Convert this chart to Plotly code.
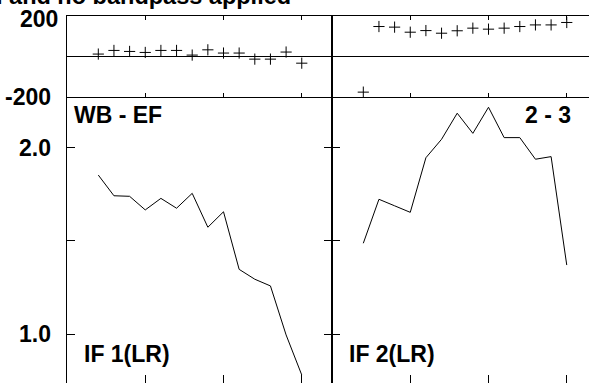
import plotly.graph_objects as go

# channel numbers along x, shared by both columns
chan = list(range(2, 16))

# phase (deg) on top row
phase_wb_ef = [12, 30, 25, 20, 30, 30, 7, 33, 17, 17, -13, -13, 22, -33]
phase_2_3 = [-176, 148, 145, 120, 128, 115, 127, 140, 135, 140, 148, 156, 156, 168]

# amplitude on bottom row
amp_if1 = [1.853, 1.742, 1.739, 1.666, 1.728, 1.675, 1.755, 1.573, 1.656, 1.347, 1.294, 1.258, 0.995, 0.780]
amp_if2 = [1.487, 1.723, 1.688, 1.653, 1.946, 2.045, 2.185, 2.077, 2.217, 2.054, 2.054, 1.938, 1.952, 1.370]

amp_ticks = [1.0, 1.5, 2.0]
amp_labels = [1.0, 2.0]
chan_ticks = [5, 10, 15]

W, H = 589, 383
ML, MT = 67, 16
split_px = 332
phase_bottom_px = 97


def px_x(px):
    return (px - ML) / (W - ML)


def px_y(py):
    return (H - py) / (H - MT)


d = px_x(split_px)
ph0 = px_y(phase_bottom_px)
unit = 15.65
xr_left = [0, (split_px - ML) / unit]
xr_right = [0, (W - split_px) / unit]
amp_range = [0.737, 2.272]

font_b = dict(family='Liberation Sans, Arial, sans-serif', size=23, color='black', weight='bold')

fig = go.Figure()
mk = dict(symbol='cross-thin', size=8, line=dict(width=1, color='black'), color='black')
fig.add_trace(go.Scatter(x=chan, y=phase_wb_ef, mode='markers', marker=mk, xaxis='x', yaxis='y'))
fig.add_trace(go.Scatter(x=chan, y=phase_2_3, mode='markers', marker=mk, xaxis='x2', yaxis='y2'))
fig.add_trace(go.Scatter(x=chan, y=amp_if1, mode='lines', line=dict(color='black', width=1), xaxis='x3', yaxis='y3'))
fig.add_trace(go.Scatter(x=chan, y=amp_if2, mode='lines', line=dict(color='black', width=1), xaxis='x4', yaxis='y4'))

ax = dict(showgrid=False, zeroline=False, linecolor='black', linewidth=1, tickcolor='black',
          tickwidth=1, ticks='inside', showticklabels=False)

fig.update_layout(
    width=W, height=H,
    margin=dict(l=ML, r=0, t=MT, b=0, pad=0),
    plot_bgcolor='white', paper_bgcolor='white',
    showlegend=False,
    xaxis=dict(ax, domain=[0, d], anchor='y', range=xr_left, tickvals=chan_ticks, ticklen=4,
               showline=True, mirror='ticks'),
    yaxis=dict(ax, domain=[ph0, 1], anchor='x', range=[-200, 200], tickvals=[-200, 0, 200], ticklen=5,
               showline=True, mirror='ticks', zeroline=True, zerolinecolor='black', zerolinewidth=1),
    xaxis2=dict(ax, domain=[d, 1], anchor='y2', range=xr_right, tickvals=chan_ticks, ticklen=4,
                showline=True, mirror='ticks'),
    yaxis2=dict(ax, domain=[ph0, 1], anchor='x2', range=[-200, 200], tickvals=[-200, 0, 200], ticklen=5,
                showline=True, zeroline=True, zerolinecolor='black', zerolinewidth=1),
    xaxis3=dict(ax, domain=[0, d], anchor='y3', range=xr_left, tickvals=chan_ticks, ticklen=8, showline=False),
    yaxis3=dict(ax, domain=[0, ph0], anchor='x3', range=amp_range, tickvals=amp_ticks,
                ticklen=8, showline=True, mirror='ticks'),
    xaxis4=dict(ax, domain=[d, 1], anchor='y4', range=xr_right, tickvals=chan_ticks, ticklen=8, showline=False),
    yaxis4=dict(ax, domain=[0, ph0], anchor='x4', range=amp_range, tickvals=amp_ticks, ticklen=8, showline=True),
    xaxis5=dict(ax, overlaying='x3', side='top', anchor='y3', range=xr_left, tickvals=chan_ticks, ticklen=7,
                showline=False),
    xaxis6=dict(ax, overlaying='x4', side='top', anchor='y4', range=xr_right, tickvals=chan_ticks, ticklen=7,
                showline=False),
)

# y labels, placed on their axes' values
fig.add_annotation(text='200', x=px_x(60), xref='paper', y=200, yref='y', xanchor='right', yanchor='middle',
                   yshift=-3, showarrow=False, font=font_b)
fig.add_annotation(text='-200', x=px_x(53), xref='paper', y=-200, yref='y', xanchor='right', yanchor='middle',
                   showarrow=False, font=font_b)
for v in amp_labels:
    fig.add_annotation(text=f'{v:.1f}', x=px_x(53), xref='paper', y=v, yref='y3', xanchor='right',
                       yanchor='middle', showarrow=False, font=font_b)

# panel labels
fig.add_annotation(text='WB - EF', x=px_x(72), y=px_y(115), xref='paper', yref='paper',
                   xanchor='left', yanchor='middle', showarrow=False, font=font_b)
fig.add_annotation(text='2 - 3', x=px_x(573), y=px_y(115), xref='paper', yref='paper',
                   xanchor='right', yanchor='middle', showarrow=False, font=font_b)
fig.add_annotation(text='IF 1(LR)', x=px_x(82), y=px_y(354), xref='paper', yref='paper',
                   xanchor='left', yanchor='middle', showarrow=False, font=font_b)
fig.add_annotation(text='IF 2(LR)', x=px_x(347), y=px_y(354), xref='paper', yref='paper',
                   xanchor='left', yanchor='middle', showarrow=False, font=font_b)

# title, cut by the top edge as in the original
fig.add_annotation(text='I and no bandpass applied', x=px_x(293), y=px_y(11.5), xref='paper', yref='paper',
                   xanchor='right', yanchor='bottom', showarrow=False,
                   font=dict(family='Liberation Sans, Arial, sans-serif', size=23.5, color='black', weight='bold'))

# drop the page's default body margin so the figure sits at the window corner
fig.write_html("out.html", config={'displayModeBar': False},
               post_script="document.body.style.margin='0px';")
